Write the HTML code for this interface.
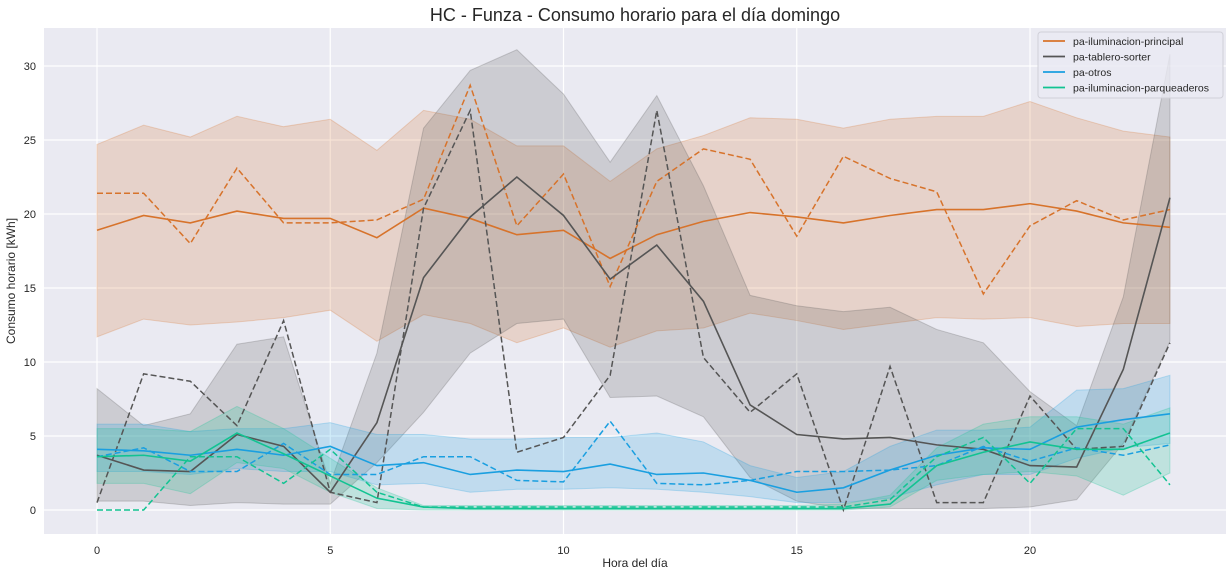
<!DOCTYPE html>
<html><head><meta charset="utf-8"><style>
body{margin:0;background:#fff;font-family:"Liberation Sans",sans-serif;}
svg text{font-family:"Liberation Sans",sans-serif;}
</style></head><body>
<svg id="chart" width="1232" height="574"></svg>
<script>
const hours=[0,1,2,3,4,5,6,7,8,9,10,11,12,13,14,15,16,17,18,19,20,21,22,23];
const xTicks=[0,5,10,15,20];
const yTicks=[0,5,10,15,20,25,30];
const seriesNames=["pa-iluminacion-principal","pa-tablero-sorter","pa-otros","pa-iluminacion-parqueaderos"];
const seriesColors=["#d7732b","#555555","#1a9fe0","#12c392"];
const orangeMean=[18.9,19.9,19.4,20.2,19.7,19.7,18.4,20.4,19.7,18.6,18.9,17.0,18.6,19.5,20.1,19.8,19.4,19.9,20.3,20.3,20.7,20.2,19.4,19.1];
const orangeUpper=[24.7,26.0,25.2,26.6,25.9,26.4,24.3,27.0,26.4,24.6,24.6,22.2,24.4,25.3,26.5,26.4,25.8,26.4,26.6,26.6,27.6,26.5,25.6,25.2];
const orangeLower=[11.7,12.9,12.5,12.7,13.0,13.5,11.4,13.2,12.6,11.3,12.3,11.0,12.1,12.3,13.3,12.8,12.2,12.6,13.0,12.9,13.0,12.4,12.6,12.6];
const orangeDashed=[21.4,21.4,18.0,23.1,19.4,19.4,19.6,21.0,28.7,19.2,22.7,15.1,22.2,24.4,23.7,18.5,23.9,22.4,21.5,14.6,19.2,20.9,19.6,20.3];
const grayMean=[3.7,2.7,2.6,5.1,4.3,1.2,5.9,15.7,19.8,22.5,19.9,15.6,17.9,14.1,7.1,5.1,4.8,4.9,4.4,4.1,3.0,2.9,9.5,21.1];
const grayUpper=[8.2,5.7,6.5,11.2,11.7,1.8,10.6,25.8,29.7,31.1,28.1,23.5,28.0,21.9,14.5,13.8,13.4,13.7,12.2,11.3,8.0,5.7,14.4,30.8];
const grayLower=[0.6,0.6,0.3,0.5,0.4,0.4,3.2,6.6,10.6,12.6,12.9,7.6,7.7,6.3,2.2,0.6,0.1,0.1,0.1,0.1,0.2,0.7,4.5,11.4];
const grayDashed=[0.5,9.2,8.7,5.7,12.8,1.2,0.5,20.4,27.0,3.9,4.9,9.1,27.0,10.3,6.6,9.2,0.0,9.7,0.5,0.5,7.7,4.1,4.3,11.3];
const blueMean=[4.1,4.0,3.7,4.1,3.7,4.3,3.0,3.2,2.4,2.7,2.6,3.1,2.4,2.5,2.0,1.2,1.5,2.7,3.7,4.2,4.1,5.6,6.1,6.5];
const blueUpper=[5.8,5.8,5.3,5.5,5.5,5.9,5.1,5.1,4.8,4.8,4.9,4.9,5.2,4.6,3.0,2.2,2.6,4.3,5.4,5.4,5.6,8.1,8.2,9.1];
const blueLower=[2.6,2.6,2.4,2.8,2.6,2.6,1.7,1.8,1.2,1.4,1.4,1.5,1.4,1.2,0.9,0.5,0.5,0.8,1.7,2.4,2.4,3.5,4.2,4.5];
const blueDashed=[3.6,4.2,2.6,2.6,4.5,2.4,2.4,3.6,3.6,2.0,1.9,6.0,1.8,1.7,2.0,2.6,2.6,2.7,3.0,4.3,3.3,4.2,3.7,4.4];
const greenMean=[3.6,3.7,3.3,5.2,3.8,2.3,0.8,0.2,0.1,0.1,0.1,0.1,0.1,0.1,0.1,0.1,0.1,0.4,3.0,3.9,4.6,4.1,4.1,5.2];
const greenUpper=[5.5,5.5,5.3,7.0,5.5,3.5,1.5,0.3,0.3,0.3,0.3,0.3,0.3,0.3,0.3,0.3,0.4,1.0,4.2,5.8,6.3,6.3,5.8,6.9];
const greenLower=[1.8,1.8,1.1,3.2,2.8,1.2,0.1,0.0,0.0,0.0,0.0,0.0,0.0,0.0,0.0,0.0,0.0,0.2,2.0,2.4,2.6,2.3,1.0,2.5];
const greenDashed=[0.0,0.0,3.6,3.6,1.8,4.1,1.2,0.2,0.2,0.2,0.2,0.2,0.2,0.2,0.2,0.2,0.2,0.7,3.6,4.9,1.8,5.5,5.5,1.7];

const NS="http://www.w3.org/2000/svg";
const svg=document.getElementById('chart');
const L=44,R=1226,T=28,B=534;
function xs(h){return 97+h*46.65;}
function ys(v){return 510-v*14.8;}
function mk(tag,attrs,parent){const e=document.createElementNS(NS,tag);for(const k in attrs)e.setAttribute(k,attrs[k]);(parent||svg).appendChild(e);return e;}

const bg=mk('rect',{x:L,y:T,width:R-L,height:B-T,fill:'#eaeaf2'});


xTicks.forEach(t=>{
  const g=mk('line',{x1:xs(t),x2:xs(t),y1:T,y2:B,stroke:'#fff','stroke-width':1.2});
  
  
  const tx=mk('text',{x:xs(t),y:554,'text-anchor':'middle','font-size':11,fill:'#262626'});
  tx.textContent=t;
  
  
});
yTicks.forEach(t=>{
  const g=mk('line',{x1:L,x2:R,y1:ys(t),y2:ys(t),stroke:'#fff','stroke-width':1.2});
  
  
  const tx=mk('text',{x:36,y:ys(t)+4,'text-anchor':'end','font-size':11,fill:'#262626'});
  tx.textContent=t;
  
  
});
const groups=[[orangeMean,orangeUpper,orangeLower,orangeDashed],[grayMean,grayUpper,grayLower,grayDashed],[blueMean,blueUpper,blueLower,blueDashed],[greenMean,greenUpper,greenLower,greenDashed]];
const keys=['principal','sorter','otros','parqueaderos'];
groups.forEach((g,i)=>{
  let d=hours.map((h,j)=>(j?'L':'M')+xs(h)+','+ys(g[1][j])).join('');
  for(let j=hours.length-1;j>=0;j--)d+='L'+xs(hours[j])+','+ys(g[2][j]);
  const b=mk('path',{d:d+'Z',fill:seriesColors[i],'fill-opacity':0.2,stroke:seriesColors[i],'stroke-opacity':0.25});
  
  
});
groups.forEach((g,i)=>{
  const pm=hours.map((h,j)=>xs(h)+','+ys(g[0][j])).join(' ');
  const m=mk('polyline',{points:pm,fill:'none',stroke:seriesColors[i],'stroke-width':1.6});
  
  
  const pd=hours.map((h,j)=>xs(h)+','+ys(g[3][j])).join(' ');
  const dl=mk('polyline',{points:pd,fill:'none',stroke:seriesColors[i],'stroke-width':1.5,'stroke-dasharray':'6,3'});
  
  
});
const title=mk('text',{x:635,y:21,'text-anchor':'middle','font-size':18,fill:'#262626'});
title.textContent='HC - Funza - Consumo horario para el día domingo';


const xl=mk('text',{x:635,y:567,'text-anchor':'middle','font-size':12,fill:'#262626'});
xl.textContent='Hora del día';


const yl=mk('text',{x:15,y:281,'text-anchor':'middle','font-size':12,fill:'#262626',transform:'rotate(-90 15 281)'});
yl.textContent='Consumo horario [kWh]';


const lg=mk('rect',{x:1038,y:32,width:185,height:66,rx:3,fill:'#eaeaf2','fill-opacity':0.8,stroke:'#d0d0d8'});


seriesNames.forEach((n,i)=>{
  const y=41+i*15.5;
  const ln=mk('line',{x1:1043,x2:1065,y1:y,y2:y,stroke:seriesColors[i],'stroke-width':1.8});
  
  
  const t=mk('text',{x:1073,y:y+4,'font-size':10.5,fill:'#262626'});
  t.textContent=n;
  
  
});
</script>
</body></html>
